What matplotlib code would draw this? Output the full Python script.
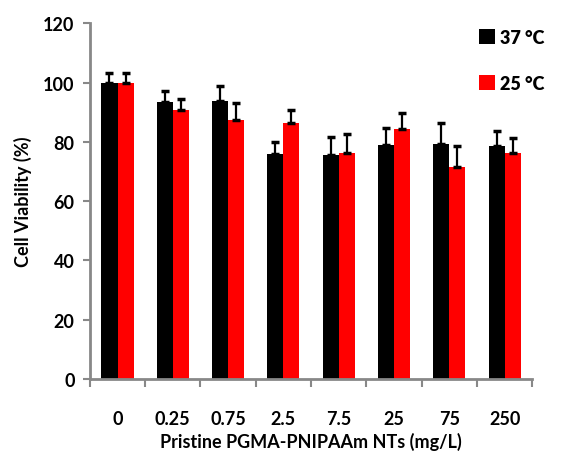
import numpy as np
import matplotlib.pyplot as plt

plt.rcParams['font.family'] = ['Lato', 'DejaVu Sans']
plt.rcParams['font.weight'] = 'bold'
plt.rcParams['axes.labelweight'] = 'bold'

# data
concentrations = ['0', '0.25', '0.75', '2.5', '7.5', '25', '75', '250']
viab_37 = [100.0, 93.4, 93.7, 75.8, 75.5, 78.9, 79.2, 78.5]
err_37 = [3.2, 3.9, 5.3, 4.0, 6.2, 5.8, 7.1, 5.2]
viab_25 = [100.0, 90.7, 87.3, 86.3, 76.2, 84.3, 71.5, 76.2]
err_25 = [3.2, 3.9, 5.9, 4.5, 6.4, 5.4, 7.1, 5.1]

fig = plt.figure(figsize=(5.76, 4.56), dpi=100, facecolor='white')
ax = fig.add_axes([0.156, 0.1667, 0.768, 0.78])

x = np.arange(len(concentrations))
w = 0.29
ax.bar(x - w / 2, viab_37, w, color='black', label='37 \u00b0C')
ax.bar(x + w / 2, viab_25, w, color='#ff0000', label='25 \u00b0C')
ax.errorbar(x - w / 2, viab_37, yerr=[np.zeros(len(x)), err_37], fmt='none',
            ecolor='black', elinewidth=1.6, capsize=3, capthick=2.5)
ax.errorbar(x + w / 2, viab_25, yerr=[np.zeros(len(x)), err_25], fmt='none',
            ecolor='black', elinewidth=1.6, capsize=3, capthick=2.5)

ax.set_xlim(-0.5, len(x) - 0.5)
ax.set_ylim(0, 120)
ax.set_yticks(np.arange(0, 121, 20))
ax.tick_params(axis='y', labelsize=13, length=5, width=1.5, color='#888888', pad=6)

# boundary ticks on x, labels at group centres
ax.set_xticks(np.arange(-0.5, len(x) - 0.4, 1))
ax.set_xticklabels([])
ax.tick_params(axis='x', which='major', length=6, width=1.5, color='#888888')
ax.set_xticks(x, minor=True)
ax.set_xticklabels(concentrations, minor=True)
ax.tick_params(axis='x', which='minor', length=0, labelsize=13, pad=22)
for lab in ax.get_yticklabels() + ax.get_xticklabels(minor=True):
    lab.set_fontweight('bold')

for s in ['top', 'right']:
    ax.spines[s].set_visible(False)
for s in ['left', 'bottom']:
    ax.spines[s].set_color('#888888')
    ax.spines[s].set_linewidth(2)

ax.set_ylabel('Cell Viability (%)', fontsize=13, labelpad=8)
ax.set_xlabel('Pristine PGMA-PNIPAAm NTs (mg/L)', fontsize=13, labelpad=4)

leg = ax.legend(frameon=False, loc='upper right', bbox_to_anchor=(1.065, 1.03),
                fontsize=13, handlelength=0.9, handleheight=0.9,
                handletextpad=0.3, labelspacing=1.6)
for t in leg.get_texts():
    t.set_fontweight('heavy')

fig.savefig('out.png', dpi=100)
plt.close(fig)
